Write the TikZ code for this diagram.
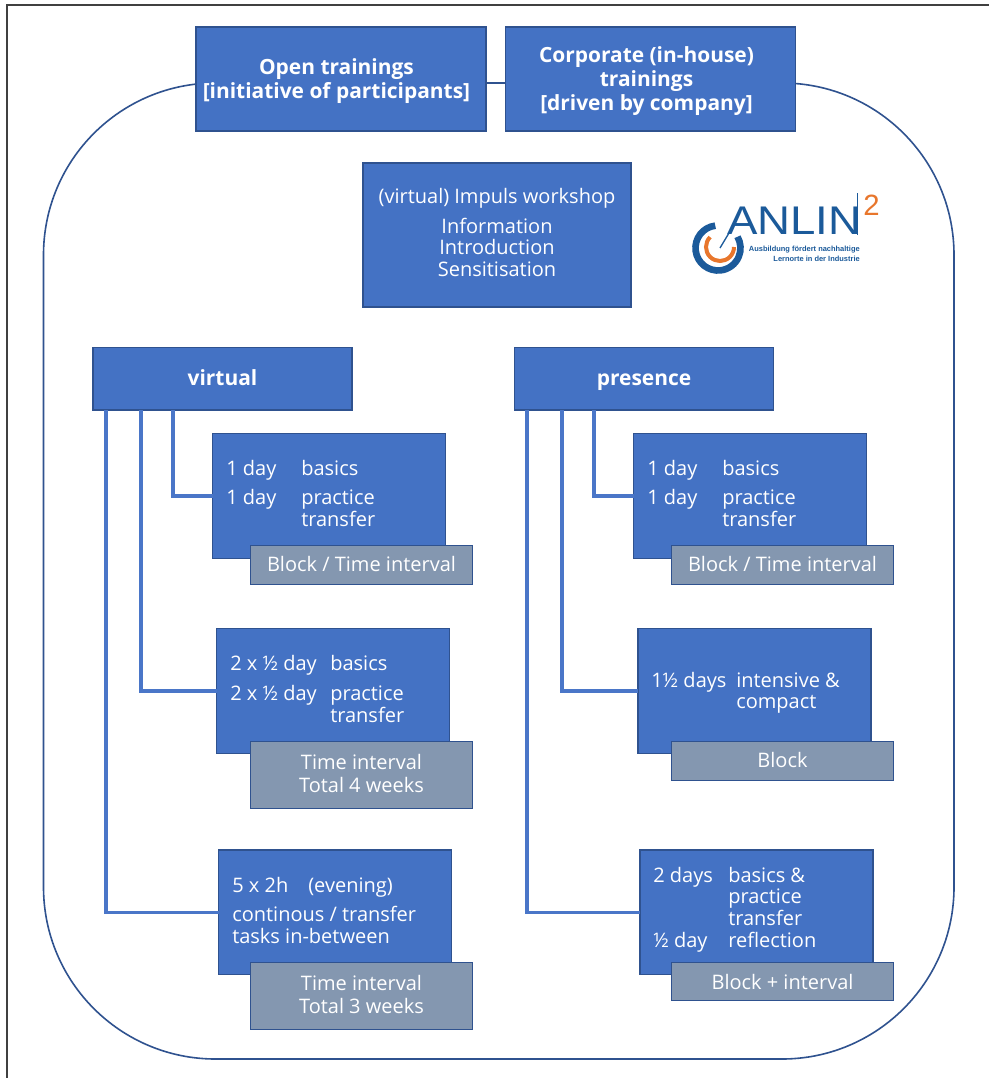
\documentclass[tikz,border=0pt]{standalone}
\usepackage{fontspec}
\setmainfont{Open Sans}
\newfontfamily\logofont{Liberation Sans}
\definecolor{boxblue}{HTML}{4472C4}
\definecolor{boxedge}{HTML}{2F528F}
\definecolor{greybox}{HTML}{8497B0}
\definecolor{linkblue}{HTML}{4A76C8}
\definecolor{logoblue}{HTML}{1B5A9A}
\definecolor{logoorange}{HTML}{E8762C}
\tikzset{
  x=0.75pt,y=-0.75pt,
  bx/.style={draw=boxedge,fill=boxblue,line width=1.2pt,outer sep=0pt,text=white,inner sep=0pt,align=center,font=\fontsize{15}{16.2}\selectfont},
  hd/.style={bx,font=\fontsize{15.7}{17.8}\selectfont\bfseries},
  gr/.style={bx,fill=greybox,font=\fontsize{15}{17.2}\selectfont},
  lbl/.style={draw=none,fill=none},
  link/.style={draw=linkblue,line width=2.3pt},
  tx/.style={text=white,inner sep=0pt,anchor=base west,xshift=-0.75pt,font=\fontsize{15}{16.2}\selectfont,align=left},
  logotx/.style={text=logoblue,inner sep=0pt,anchor=base east,font=\logofont\fontsize{5.6}{6}\selectfont\bfseries},
}
% box with a text set off from its centre by dx,dy (pt, y up)
\newcommand{\boxat}[8][bx]{%
  \node[#1,minimum width=#4*0.75pt,minimum height=#5*0.75pt,anchor=north west] (#2) at #3 {};
  \node[#1,lbl] (#2T) at ([xshift=#6pt,yshift=#7pt]#2.center) {#8};}
\begin{document}
\begin{tikzpicture}
\useasboundingbox (0,0) rectangle (989,1078);
\fill[white] (0,0) rectangle (989,1078);
\draw[black!75,line width=0.8pt] (7,1078) -- (7,5) -- (989,5);
\draw[boxedge,line width=1.2pt,rounded corners=129] (43.5,1059) rectangle (954,83);
% header boxes
\boxat[hd]{open}{(196,27)}{290}{104}{-3.4}{-1.3}{Open trainings\\{}[initiative of participants]}
\boxat[hd]{corp}{(505.5,27)}{290}{104}{-3}{-1.6}{Corporate (in-house)\\trainings\\{}[driven by company]}
\draw[boxedge,line width=1.2pt] (open.east |- 0,83) -- (corp.west |- 0,83);
\boxat{impuls}{(363,163)}{268}{144}{0}{1.9}{(virtual) Impuls workshop\\[6pt]Information\\Introduction\\Sensitisation}
% logo
\draw[logoblue,line width=5pt] (718,248) ++(263:22.5) arc[start angle=263,end angle=-30,radius=22.5];
\draw[logoorange,line width=3pt] (720,247) ++(225:14) arc[start angle=225,end angle=0,radius=14];
\draw[logoblue,line width=1pt] (729,233) -- (720,248);
\node[inner sep=0pt,anchor=base west,text=logoblue] (logoname) at (727,234.5)
  {\scalebox{1.14}[1]{\logofont\fontsize{30}{30}\selectfont ANLIN}};
\draw[logoblue,line width=1pt] (857.5,193) -- (857.5,235);
\node[inner sep=0pt,anchor=base west,text=logoorange] (logotwo) at (863,215)
  {\logofont\fontsize{22}{22}\selectfont 2};
\node[logotx] (logoa) at (860,251) {Ausbildung fördert nachhaltige};
\node[logotx] (logob) at (860,261) {Lernorte in der Industrie};
% section heads
\boxat[hd]{virt}{(93,347.5)}{259}{62.5}{0}{0.5}{virtual}
\boxat[hd]{pres}{(514.5,347.5)}{259}{62.5}{0}{-2.6}{presence}
% left column
\boxat{a}{(212.5,433.5)}{233}{125}{0}{0}{}
\boxat{b}{(216.5,628.5)}{233}{125}{0}{0}{}
\boxat{c}{(218.5,850)}{233}{124.5}{0}{0}{}
% right column
\boxat{d}{(633.5,433.5)}{233}{125}{0}{0}{}
\boxat{e}{(638,628.5)}{233}{125}{0}{0}{}
\boxat{f}{(640,850)}{233}{124.5}{0}{0}{}
% connectors
\draw[link] (173,0 |- virt.south) |- (a.west);
\draw[link] (141,0 |- virt.south) |- (b.west);
\draw[link] (106,0 |- virt.south) |- (c.west);
\draw[link] (594,0 |- pres.south) |- (d.west);
\draw[link] (562,0 |- pres.south) |- (e.west);
\draw[link] (527,0 |- pres.south) |- (f.west);
% grey labels
\boxat[gr]{ga}{(250.5,545.5)}{222}{39}{0}{0.8}{Block / Time interval}
\boxat[gr]{gb}{(250.5,741.5)}{222}{67}{0}{1.1}{Time interval\\Total 4 weeks}
\boxat[gr]{gc}{(250.5,962.5)}{222}{67}{0}{1.1}{Time interval\\Total 3 weeks}
\boxat[gr]{gd}{(671.5,545.5)}{222}{39}{0}{0.8}{Block / Time interval}
\boxat[gr]{ge}{(671.5,741.5)}{222}{39}{0}{0.8}{Block}
\boxat[gr]{gf}{(671.5,962.5)}{222}{38}{0}{0}{Block + interval}
% box texts
\node[tx] (a1) at (227,475) {1 day};
\node[tx] (a2) at (302,475) {basics};
\node[tx] (a3) at (227,504) {1 day};
\node[tx] (a4) at (302,504) {practice};
\node[tx] (a5) at (302,526) {transfer};
\node[tx] (b1) at (231,670) {2 x ½ day};
\node[tx] (b2) at (331,670) {basics};
\node[tx] (b3) at (231,700) {2 x ½ day};
\node[tx] (b4) at (331,700) {practice};
\node[tx] (b5) at (331,722) {transfer};
\node[tx] (c1) at (233,892) {5 x 2h};
\node[tx] (c2) at (309,892) {(evening)};
\node[tx] (c3) at (233,921) {continous / transfer};
\node[tx] (c4) at (233,943) {tasks in-between};
\node[tx] (d1) at (648,475) {1 day};
\node[tx] (d2) at (723,475) {basics};
\node[tx] (d3) at (648,504) {1 day};
\node[tx] (d4) at (723,504) {practice};
\node[tx] (d5) at (723,526) {transfer};
\node[tx] (e1) at (652,687) {1½ days};
\node[tx] (e2) at (737,687) {intensive \&};
\node[tx] (e3) at (737,708) {compact};
\node[tx] (f1) at (654,882) {2 days};
\node[tx] (f2) at (729,882) {basics \&};
\node[tx] (f3) at (729,903) {practice};
\node[tx] (f4) at (729,925) {transfer};
\node[tx] (f5) at (654,947) {½ day};
\node[tx] (f6) at (729,947) {reflection};
\end{tikzpicture}
\end{document}
